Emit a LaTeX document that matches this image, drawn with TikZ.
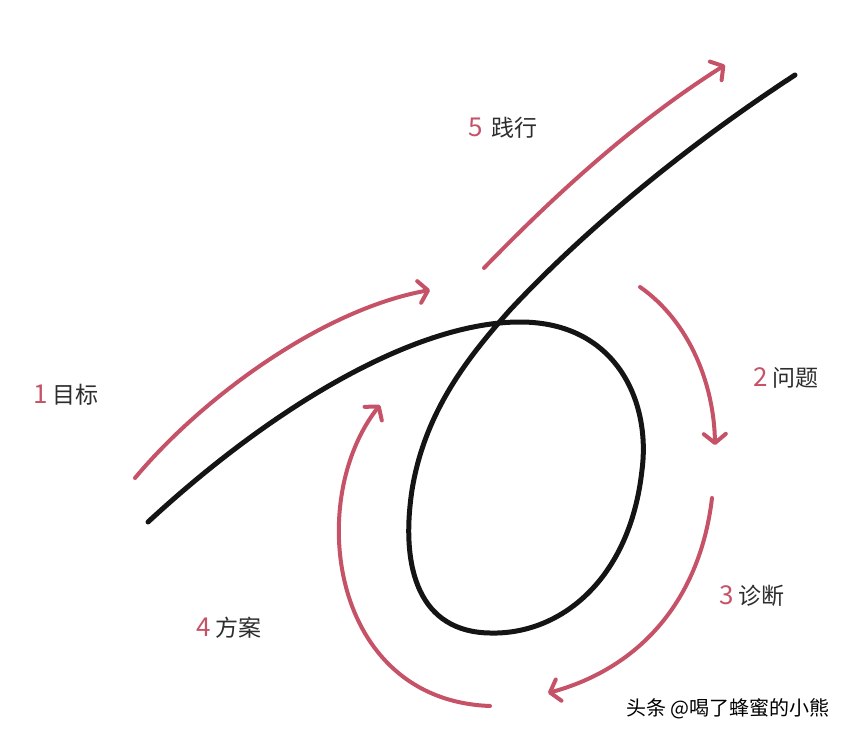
\documentclass[tikz,border=0pt]{standalone}
\usepackage{fontspec}
\newfontfamily\cjk{Noto Sans CJK SC}
\usetikzlibrary{arrows.meta}
\definecolor{stepred}{RGB}{198,82,104}
\definecolor{labelgray}{RGB}{45,45,45}
\tikzset{
  loopline/.style={line width=5pt, black!92, line cap=round},
  cycarrow/.style={line width=4pt, stepred, line cap=round,
    -{Straight Barb[length=9pt,width=22pt,round]}},
  steplabel/.style={font=\cjk\fontsize{23}{26}\selectfont, text=labelgray, inner sep=0pt},
}
\newcommand{\stepno}[1]{{\color{stepred}\fontsize{26}{28}\selectfont #1}\,}
\begin{document}
\begin{tikzpicture}[x=1pt, y=-1pt]
\useasboundingbox[fill=white] (0,0) rectangle (859,738);

% the black curve with its loop
\coordinate (start) at (148,522);
\coordinate (top) at (520,322);
\coordinate (right) at (642,470);
\coordinate (bottom) at (490,633);
\coordinate (left) at (412,490);
\coordinate (cross) at (510,310);
\coordinate (finish) at (795,75);
\draw[loopline] (start) .. controls (280,400) and (420,322) .. (top)
  .. controls (615,322) and (651,400) .. (right)
  .. controls (630,580) and (560,635) .. (bottom)
  .. controls (420,632) and (400,570) .. (left)
  .. controls (425,410) and (470,355) .. (cross)
  .. controls (580,235) and (680,150) .. (finish);

% red arrows
\coordinate (a1s) at (135,478);
\coordinate (a1e) at (430,290);
\coordinate (a2s) at (640,287);
\coordinate (a2e) at (715,445);
\coordinate (a3s) at (712,498);
\coordinate (a3e) at (548,693);
\coordinate (a4s) at (490,706);
\coordinate (a4e) at (380,405);
\coordinate (a5s) at (484,268);
\coordinate (a5e) at (725,65);
\draw[cycarrow] (a1s) .. controls (200,400) and (320,310) .. (a1e);
\draw[cycarrow] (a2s) .. controls (690,322) and (714,385) .. (a2e);
\draw[cycarrow] (a3s) .. controls (700,600) and (640,668) .. (a3e);
\draw[cycarrow] (a4s) .. controls (330,700) and (305,500) .. (a4e);
\draw[cycarrow] (a5s) .. controls (550,200) and (630,125) .. (a5e);

% labels
\node[steplabel] (goal) at (66,395) {\stepno{1}目标};
\node[steplabel] (problem) at (786,378) {\stepno{2}问题};
\node[steplabel] (diagnose) at (752,596) {\stepno{3}诊断};
\node[steplabel] (plan) at (229,628) {\stepno{4}方案};
\node[steplabel] (practice) at (503,128) {\stepno{5}\,践行};

% watermark
\node[font=\cjk\fontsize{20}{22}\selectfont, text=black, inner sep=0pt] (mark) at (728,709) {头条 @喝了蜂蜜的小熊};
\end{tikzpicture}
\end{document}
